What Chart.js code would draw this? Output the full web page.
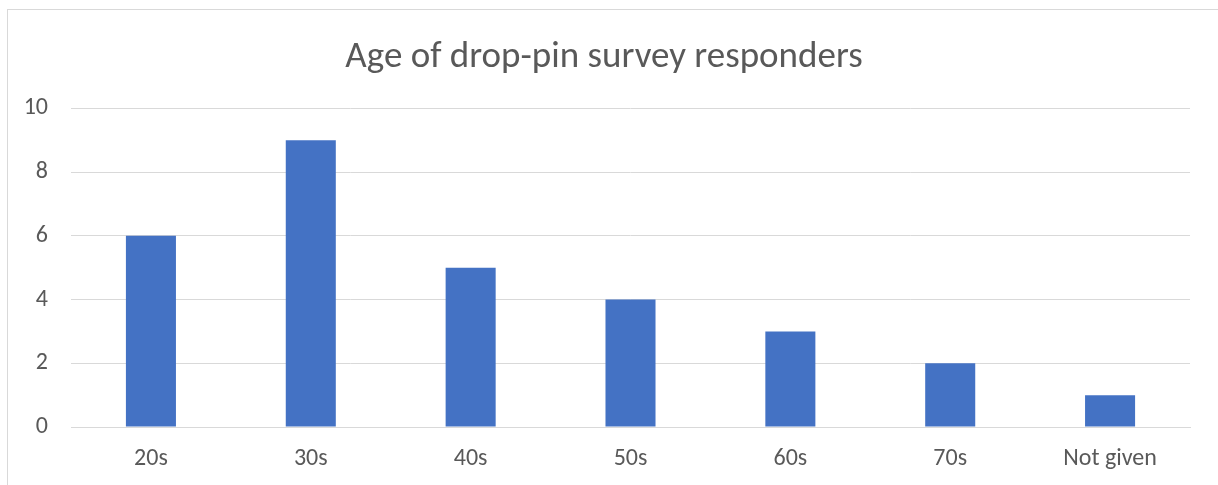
<!DOCTYPE html>
<html>
<head>
<meta charset="utf-8">
<script src="https://cdn.jsdelivr.net/npm/chart.js@4"></script>
<style>
  html, body { margin: 0; padding: 0; background: #fff; overflow: hidden; }
  #wrap { position: relative; width: 1218px; height: 485px; }
  #frame {
    position: absolute; left: 7px; top: 9px; width: 1300px; height: 600px;
    border: 1.5px solid #d9d9d9; pointer-events: none;
  }
</style>
</head>
<body>
<div id="wrap">
  <canvas id="myChart" width="1218" height="485"></canvas>
  <div id="frame"></div>
</div>
<script>
// chart data
const categories = ['20s', '30s', '40s', '50s', '60s', '70s', 'Not given'];
const responders = [6, 9, 5, 4, 3, 2, 1];
const yMax = 10;
const yStep = 2;
const chartTitle = 'Age of drop-pin survey responders';

const fontFamily = "Carlito, Calibri, Lato, 'Open Sans', sans-serif";
const textColor = '#595959';
const gridColor = '#d9d9d9';

const ctx = document.getElementById('myChart').getContext('2d');

const myChart = new Chart(ctx, {
  type: 'bar',
  data: {
    labels: categories,
    datasets: [
      {
        label: 'Responders',
        data: responders,
        backgroundColor: '#4472c4',
        borderWidth: 0,
        barPercentage: 1,
        categoryPercentage: 0.313,
      },
    ],
  },
  options: {
    responsive: false,
    animation: false,
    layout: {
      // some left padding nudges the title towards the frame centre
      padding: { left: 18, right: 28, top: 36, bottom: 0 },
    },
    plugins: {
      legend: { display: false },
      tooltip: { enabled: false },
      title: {
        display: true,
        text: chartTitle,
        color: textColor,
        font: { family: fontFamily, size: 37, weight: 'normal' },
        padding: { top: 0, bottom: 28 },
      },
    },
    scales: {
      x: {
        grid: { display: false, drawTicks: false },
        border: { display: true, color: gridColor, width: 1 },
        ticks: {
          color: textColor,
          font: { family: fontFamily, size: 24 },
          padding: 18,
        },
        afterFit: (axis) => { axis.height = 58; },
      },
      y: {
        min: 0,
        max: yMax,
        grid: { color: gridColor, drawTicks: false },
        border: { display: false },
        ticks: {
          stepSize: yStep,
          color: textColor,
          font: { family: fontFamily, size: 24 },
          padding: 23,
        },
        afterFit: (axis) => { axis.width = 53; },
      },
    },
  },
});
</script>
</body>
</html>
